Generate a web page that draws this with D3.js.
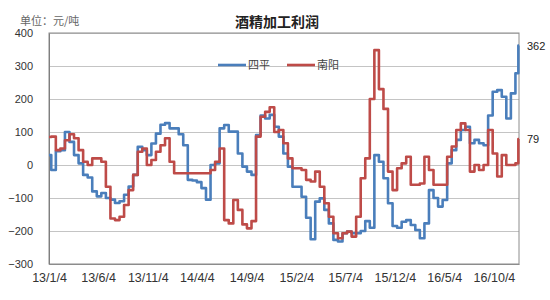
<!DOCTYPE html>
<html>
<head>
  <meta charset="utf-8">
  <script src="https://d3js.org/d3.v7.min.js"></script>
<style>
  body { margin: 0; background: #fff; }
  text { font-family: 'Liberation Sans', Arial, 'Noto Sans CJK SC', sans-serif; }
  .cn { font-family: 'Noto Sans CJK SC', sans-serif; }
  .grid line { stroke: #c4c4c4; stroke-width: 1px; }
  .grid .domain { display: none; }
</style>
</head>
<body>
  <div id="chart"><svg></svg></div>

  <script>

    'use strict';

    var title = "酒精加工利润";
    var unitLabel = "单位：元/吨";
    var seriesNames = ["四平", "南阳"];

    var dates = [
      "2013-01-04","2013-01-18","2013-02-01","2013-02-15","2013-03-01","2013-03-15","2013-03-29","2013-04-12","2013-04-26","2013-05-10",
      "2013-05-24","2013-06-07","2013-06-21","2013-07-05","2013-07-19","2013-08-02","2013-08-16","2013-08-30","2013-09-13","2013-09-27",
      "2013-10-11","2013-10-25","2013-11-08","2013-11-22","2013-12-06","2013-12-20","2014-01-03","2014-01-17","2014-01-31","2014-02-14",
      "2014-02-28","2014-03-14","2014-03-28","2014-04-11","2014-04-25","2014-05-09","2014-05-23","2014-06-06","2014-06-20","2014-07-04",
      "2014-07-18","2014-08-01","2014-08-15","2014-08-29","2014-09-12","2014-09-26","2014-10-10","2014-10-24","2014-11-07","2014-11-21",
      "2014-12-05","2014-12-19","2015-01-02","2015-01-16","2015-01-30","2015-02-13","2015-02-27","2015-03-13","2015-03-27","2015-04-10",
      "2015-04-24","2015-05-08","2015-05-22","2015-06-05","2015-06-19","2015-07-03","2015-07-17","2015-07-31","2015-08-14","2015-08-28",
      "2015-09-11","2015-09-25","2015-10-09","2015-10-23","2015-11-06","2015-11-20","2015-12-04","2015-12-18","2016-01-01","2016-01-15",
      "2016-01-29","2016-02-12","2016-02-26","2016-03-11","2016-03-25","2016-04-08","2016-04-22","2016-05-06","2016-05-20","2016-06-03",
      "2016-06-17","2016-07-01","2016-07-15","2016-07-29","2016-08-12","2016-08-26","2016-09-09","2016-09-23","2016-10-07","2016-10-21",
      "2016-11-04","2016-11-18","2016-12-02","2016-12-16","2016-12-20"
    ];

    // 四平
    var siping = [
      30, -15, 42, 45, 100, 70, 30, 5, -30, -38,
      -80, -95, -85, -100, -105, -115, -110, -90, -65, -30,
      55, 45, 30, 65, 95, 122, 127, 111, 111, 93,
      60, -45, -47, -52, -70, -105, 0, 5, 111, 121,
      101, 101, 35, -5, -20, -30, 91, 150, 141, 152,
      116, 86, 35, -5, -66, -66, -96, -160, -225, -111,
      -101, -136, -177, -227, -232, -207, -202, -207, -207, -200,
      -170, -190, 30, 10, -40, -116, -185, -190, -172, -167,
      -182, -197, -222, -177, -76, -100, -126, -106, 5, 45,
      76, 106, 116, 66, 76, 66, 60, 150, 222, 227,
      207, 141, 217, 278, 362
    ];

    // 南阳
    var nanyang = [
      85, 86, 45, 50, 75, 93, 81, 45, 10, 0,
      20, 20, 10, -66, -162, -167, -157, -121, -76, -30,
      40, 50, 0, 15, 40, 60, 81, 10, -25, -25,
      -25, -25, -25, -25, -25, -25, -15, 10, 50, -167,
      -177, -106, -136, -180, -192, -170, 86, 146, 161, 175,
      100, 106, 66, 20, -10, -10, -15, -45, -50, -20,
      -66, -116, -157, -207, -222, -207, -202, -217, -157, -40,
      20, 200, 348, 230, 170, -20, -76, -10, 5, 25,
      -60, -60, -56, 25, -15, -60, -60, -60, 25, 56,
      106, 126, 106, -20, 0, -15, 0, 106, 35, -35,
      30, 0, 0, 5, 79
    ];

    var xTicks = ["2013-01-04","2013-06-04","2013-11-04","2014-04-04","2014-09-04",
                  "2015-02-04","2015-07-04","2015-12-04","2016-05-04","2016-10-04"];
    var yTicks = [-300, -200, -100, 0, 100, 200, 300, 400];

    var colors = ["#4a7ebb", "#be4b48"];

    var width = 550, height = 300;
    var margin = {top: 33, right: 31, bottom: 36, left: 49};
    var innerW = width - margin.left - margin.right;
    var innerH = height - margin.top - margin.bottom;

    var parse = d3.timeParse("%Y-%m-%d");
    var fmt = d3.timeFormat("%y/%-m/%-d");

    var svg = d3.select("#chart").select("svg").attr("width", width).attr("height", height);

    var g = svg.append("g")
       .attr("transform", "translate(" + margin.left + "," + margin.top + ")");

    var x = d3.scaleTime()
      .domain([parse(dates[0]), parse(dates[dates.length - 1])])
      .range([0, innerW]);

    var y = d3.scaleLinear()
      .domain([-300, 400])
      .range([innerH, 0]);

    // gridlines
    g.append("g")
     .attr("class", "grid")
     .call(d3.axisLeft(y).tickValues(yTicks).tickSize(-innerW).tickFormat(""));

    // plot border
    g.append("rect")
     .attr("width", innerW)
     .attr("height", innerH)
     .attr("fill", "none")
     .attr("stroke", "#8c8c8c")
     .attr("stroke-width", 1);

    // y axis
    var yAxis = g.append("g")
     .call(d3.axisLeft(y).tickValues(yTicks).tickSize(0).tickPadding(16));
    yAxis.select(".domain").attr("stroke", "#7f7f7f");
    yAxis.selectAll("text").attr("font-size", "11px").attr("fill", "#333");

    // x axis
    var xAxis = g.append("g")
     .attr("transform", "translate(0," + innerH + ")")
     .call(d3.axisBottom(x).tickValues(xTicks.map(parse)).tickFormat(fmt).tickSize(0).tickPadding(9));
    xAxis.select(".domain").attr("stroke", "#8c8c8c");
    xAxis.selectAll("text").attr("font-size", "12.5px").attr("fill", "#333");

    var line = d3.line()
      .curve(d3.curveStep)
      .x(function(d) { return x(d[0]); })
      .y(function(d) { return y(d[1]); });

    var series = [siping, nanyang];

    series.forEach(function(vals, k) {
      var pts = vals.map(function(v, i) { return [parse(dates[i]), v]; });
      g.append("path")
       .datum(pts)
       .attr("fill", "none")
       .attr("stroke", colors[k])
       .attr("stroke-width", 2.6)
       .attr("stroke-linejoin", "round")
       .attr("d", line);

      var last = pts[pts.length - 1];
      g.append("text")
       .attr("x", x(last[0]) + 8)
       .attr("y", y(last[1]) + 4)
       .attr("font-size", "11px")
       .attr("fill", "#222")
       .text(last[1]);
    });

    // legend
    var legendX = [218, 287];
    seriesNames.forEach(function(name, k) {
      var lg = svg.append("g").attr("transform", "translate(" + legendX[k] + "," + (margin.top + y(300) - 1) + ")");
      lg.append("line")
        .attr("x1", 0).attr("x2", 28)
        .attr("stroke", colors[k])
        .attr("stroke-width", 2.6);
      lg.append("text")
        .attr("class", "cn")
        .attr("x", 30)
        .attr("y", 4)
        .attr("font-size", "11px")
        .attr("fill", "#444")
        .text(name);
    });

    // title and unit
    svg.append("text")
       .attr("class", "cn")
       .attr("x", 277)
       .attr("y", 27)
       .attr("text-anchor", "middle")
       .attr("font-size", "14px")
       .attr("font-weight", "bold")
       .attr("fill", "#222")
       .text(title);

    svg.append("text")
       .attr("class", "cn")
       .attr("x", 20)
       .attr("y", 25)
       .attr("font-size", "11px")
       .attr("fill", "#666")
       .text(unitLabel);

  </script>

</body>
</html>
